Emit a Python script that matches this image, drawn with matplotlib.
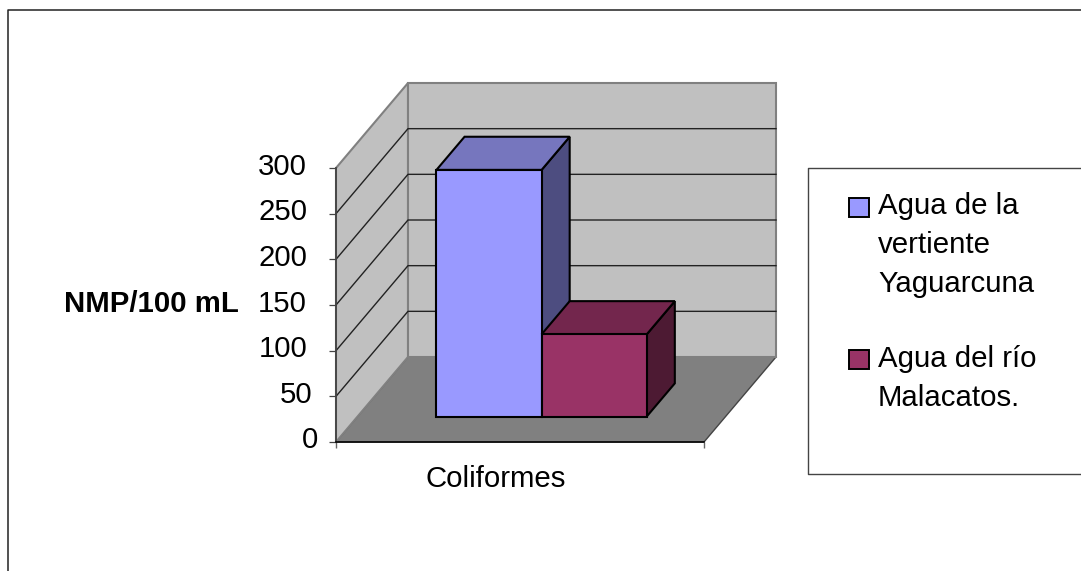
import matplotlib
matplotlib.use("Agg")
import matplotlib.pyplot as plt
from matplotlib.patches import Polygon, Rectangle
from matplotlib.transforms import ScaledTranslation

plt.rcParams["font.family"] = ["Liberation Sans", "DejaVu Sans"]

# Data
category = "Coliformes"
series_names = ["Agua de la\nvertiente\nYaguarcuna", "Agua del río\nMalacatos."]
series_values = [270, 90]
y_ticks = [0, 50, 100, 150, 200, 250, 300]
y_title = "NMP/100 mL"

front_colors = ["#9999FF", "#993366"]
top_colors = ["#7676BE", "#73264D"]
side_colors = ["#4D4D80", "#4D1A33"]

FONT = 21.2
W, H = 1081, 571
fig = plt.figure(figsize=(W / 100, H / 100), dpi=100)

# axes covers the front plane of the 3D box
L, R, T, B = 336, 704, 168, 442
ax = fig.add_axes([L / W, 1 - B / H, (R - L) / W, (B - T) / H])
ax.set_xlim(0, 1)
ax.set_ylim(0, 300)
ax.patch.set_visible(False)

# oblique offset for full depth of the box, in data units
DX = 72 / (R - L)
DY = 85 / (B - T) * 300


def proj(x, y, d):
    return (x + d * DX, y + d * DY)


def face(pts, color, edge, lw=1.0, z=1):
    ax.add_patch(Polygon(pts, closed=True, facecolor=color, edgecolor=edge,
                         linewidth=lw, clip_on=False, zorder=z, joinstyle="miter"))


# walls and floor
face([proj(0, 0, 0), proj(1, 0, 0), proj(1, 0, 1), proj(0, 0, 1)], "#808080", "#444444")
face([proj(0, 0, 0), proj(0, 300, 0), proj(0, 300, 1), proj(0, 0, 1)], "#C0C0C0", "#808080", 1.5)
face([proj(0, 0, 1), proj(1, 0, 1), proj(1, 300, 1), proj(0, 300, 1)], "#C0C0C0", "#808080", 1.5)

# gridlines along the side and back walls
for v in y_ticks[1:-1]:
    xs, ys = zip(proj(0, v, 0), proj(0, v, 1), proj(1, v, 1))
    ax.plot(xs, ys, color="#222222", lw=1.0, clip_on=False, zorder=2)

# bars
gap = 1.5
bar_w = 1 / (len(series_values) + gap)
d0, d1 = 0.3, 0.69
for i, val in enumerate(series_values):
    x0 = gap / 2 * bar_w + i * bar_w
    x1 = x0 + bar_w
    z = 3 + i
    face([proj(x1, 0, d0), proj(x1, 0, d1), proj(x1, val, d1), proj(x1, val, d0)],
         side_colors[i], "black", 1.5, z)
    face([proj(x0, val, d0), proj(x1, val, d0), proj(x1, val, d1), proj(x0, val, d1)],
         top_colors[i], "black", 1.5, z)
    face([proj(x0, 0, d0), proj(x1, 0, d0), proj(x1, val, d0), proj(x0, val, d0)],
         front_colors[i], "black", 1.5, z)

# axes and ticks
for s in ["top", "right"]:
    ax.spines[s].set_visible(False)
ax.spines["left"].set_linewidth(1.3)
ax.spines["left"].set_color("#444444")
ax.spines["bottom"].set_linewidth(1.1)
ax.spines["left"].set_zorder(6)
ax.spines["bottom"].set_zorder(6)
ax.set_yticks(y_ticks)
ax.set_xticks([0, 1])
ax.set_xticklabels(["", ""])
ax.tick_params(axis="y", length=5, width=0.9, color="#444444", labelsize=FONT, pad=0)
ax.tick_params(axis="x", length=4.5, width=1.0, color="#666666")

# tick labels sit a little above their ticks, with shorter numbers further right
label_gap = {3: 22, 2: 17, 1: 11}
for label, v in zip(ax.get_yticklabels(), y_ticks):
    n = len(str(v))
    shift = ScaledTranslation(-label_gap[n] / 100, 4.5 / 100, fig.dpi_scale_trans)
    label.set_transform(label.get_transform() + shift)


def px_text(x, y, s, **kw):
    fig.text(x / W, 1 - y / H, s, **kw)


px_text(496, 487, category, fontsize=FONT, ha="center", va="baseline")
px_text(151.5, 312, y_title, fontsize=FONT, fontweight="bold", ha="center", va="baseline")

# outer frame, open on the right and bottom
fig.add_artist(plt.Line2D([8 / W, 8 / W, 1], [0, 1 - 10 / H, 1 - 10 / H], color="#222222", lw=1.1))

# legend box runs off the right edge
fig.add_artist(plt.Line2D([1, 808 / W, 808 / W, 1],
                          [1 - 168 / H, 1 - 168 / H, 1 - 474 / H, 1 - 474 / H],
                          color="#444444", lw=1.0))
swatch_tops = [198, 350]
text_tops = [192, 345]
for i, name in enumerate(series_names):
    fig.add_artist(Rectangle((849 / W, 1 - (swatch_tops[i] + 19) / H), 20 / W, 19 / H,
                             transform=fig.transFigure, facecolor=front_colors[i],
                             edgecolor="black", linewidth=1.4))
    px_text(878, text_tops[i], name, fontsize=FONT, ha="left", va="top", linespacing=1.5)

fig.savefig("out.png", dpi=100)
plt.close(fig)
